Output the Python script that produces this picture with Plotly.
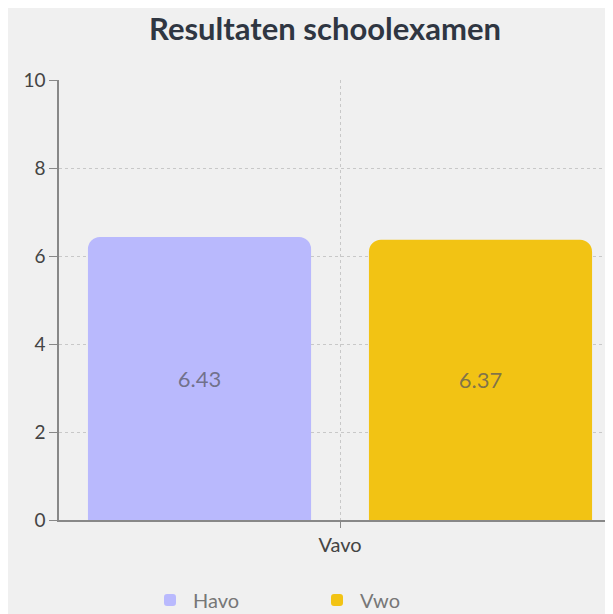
import plotly.graph_objects as go

categories = ["Vavo"]
series_names = ["Havo", "Vwo"]
havo_values = [6.43]
vwo_values = [6.37]
colors = ["#b9b9fd", "#f2c314"]
y_ticks = [0, 2, 4, 6, 8, 10]

fig = go.Figure()
for name, vals, col in zip(series_names, [havo_values, vwo_values], colors):
    fig.add_trace(go.Bar(
        x=categories, y=vals, name=name,
        marker=dict(color=col, line=dict(width=0)),
        text=[f"{v:.2f}" for v in vals],
        textposition="inside", insidetextanchor="middle",
        textfont=dict(family="Lato", size=22, color="rgba(85,85,95,0.72)"),
        hoverinfo="skip",
    ))

fig.update_layout(
    width=613, height=614,
    margin=dict(l=51, r=0, t=72, b=102, autoexpand=False),
    paper_bgcolor="#f0f0f0", plot_bgcolor="#f0f0f0",
    barmode="group", bargap=0.0, bargroupgap=0.206,
    barcornerradius=12,
    font=dict(family="Lato", color="#555"),
    title=dict(text="<b>Resultaten schoolexamen</b>", x=317/613, xanchor="center",
               y=1 - 21/614, yanchor="middle",
               font=dict(family="Lato", size=31, color="#2f3642")),
    xaxis=dict(type="category", range=[-0.5, 0.5], automargin=False,
               showline=True, linecolor="#888", linewidth=1.5,
               showgrid=True, gridcolor="#c8c8c8", griddash="dot", gridwidth=1,
               ticks="outside", ticklen=6, tickcolor="#888",
               tickfont=dict(family="Lato", size=20, color="#444")),
    yaxis=dict(range=[0, 10], tickvals=y_ticks, zeroline=False, automargin=False,
               showline=True, linecolor="#888", linewidth=1.5,
               showgrid=True, gridcolor="#c8c8c8", griddash="dot", gridwidth=1,
               ticks="outside", ticklen=8, tickcolor="#888",
               tickfont=dict(family="Lato", size=19, color="#444")),
    legend=dict(orientation="h", x=0.1566, xanchor="left", y=-80/440, yanchor="middle",
                entrywidth=116, entrywidthmode="pixels", itemwidth=36,
                font=dict(family="Lato", size=20, color="#777"),
                bgcolor="rgba(0,0,0,0)"),
    showlegend=True,
)

fig.write_html("out.html")
